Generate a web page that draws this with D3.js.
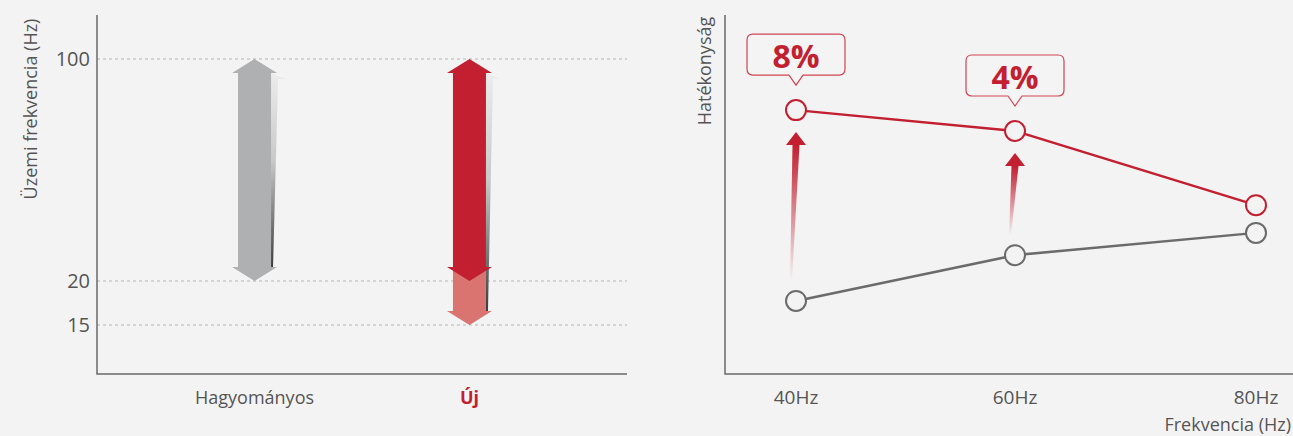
<!DOCTYPE html>
<html>
<head>
<meta charset="utf-8">
<script src="https://cdn.jsdelivr.net/npm/d3@7"></script>
<style>
  html, body { margin: 0; padding: 0; background: #f3f3f3; }
  svg { display: block; font-family: "Open Sans", "Noto Sans", sans-serif; }
</style>
</head>
<body>
<svg id="chart" width="1293" height="436"></svg>
<script>
// ---- left chart data: operating frequency range
const categories = ["Hagyományos", "Új"];
const maxHz = [100, 100];
const minHz = [20, 20];
const extendedMinHz = [null, 15];
const yTicksLeft = [15, 20, 100];

// ---- right chart data: efficiency vs frequency
const freqLabels = ["40Hz", "60Hz", "80Hz"];
const freqHz = [40, 60, 80];
const conventional = [20.3, 33, 39.2];
const improved = [73.3, 67.5, 46.9];
const gains = ["8%", "4%", null];

const RED = "#c21f30";
const PINK = "#da7471";
const GREY_ARROW = "#afb0b2";
const TEXT = "#555";
const AXIS = "#6a6a6a";

const svg = d3.select("#chart");
svg.append("rect").attr("width", 1293).attr("height", 436).attr("fill", "#f3f3f3");

const defs = svg.append("defs");
function shadowGrad(id) {
  const g = defs.append("linearGradient").attr("id", id)
    .attr("x1", 0).attr("y1", 0).attr("x2", 0).attr("y2", 1);
  g.append("stop").attr("offset", "0%").attr("stop-color", "#ececec");
  g.append("stop").attr("offset", "45%").attr("stop-color", "#c9c9c9");
  g.append("stop").attr("offset", "100%").attr("stop-color", "#3c3c3c");
}
shadowGrad("shadow");
const fade = defs.append("linearGradient").attr("id", "fadeRed")
  .attr("x1", 0).attr("y1", 0).attr("x2", 0).attr("y2", 1);
fade.append("stop").attr("offset", "0%").attr("stop-color", RED).attr("stop-opacity", 1);
fade.append("stop").attr("offset", "100%").attr("stop-color", RED).attr("stop-opacity", 0);

// ================= LEFT CHART =================
const L = { left: 97, right: 627, top: 15, bottom: 374 };
const xL = d3.scalePoint().domain(categories).range([L.left, L.right]).padding(0.733);
const yL = d3.scaleLinear().domain([15, 20, 100]).range([325, 281, 59]);

const left = svg.append("g");

// dotted gridlines
left.selectAll("line.grid").data(yTicksLeft).enter().append("line")
  .attr("x1", L.left).attr("x2", L.right)
  .attr("y1", d => yL(d)).attr("y2", d => yL(d))
  .attr("stroke", "#b5b5b5").attr("stroke-width", 1).attr("stroke-dasharray", "3,3");

left.selectAll("text.tick").data(yTicksLeft).enter().append("text")
  .attr("x", L.left - 7).attr("y", d => yL(d)).attr("dy", "0.36em")
  .attr("text-anchor", "end").attr("font-size", 20).attr("fill", TEXT)
  .text(d => d);

// axes
left.append("path")
  .attr("d", `M${L.left},${L.top}V${L.bottom}H${L.right}`)
  .attr("fill", "none").attr("stroke", AXIS).attr("stroke-width", 1.5);

left.append("text")
  .attr("transform", `translate(37,${L.top + 94}) rotate(-90)`)
  .attr("text-anchor", "middle").attr("font-size", 18).attr("fill", TEXT)
  .text("Üzemi frekvencia (Hz)");

left.selectAll("text.cat").data(categories).enter().append("text")
  .attr("x", d => xL(d)).attr("y", 404)
  .attr("text-anchor", "middle").attr("font-size", 18)
  .attr("font-weight", (d, i) => i === 1 ? "bold" : "normal")
  .attr("fill", (d, i) => i === 1 ? RED : TEXT)
  .text(d => d);

const shaftW = 33, headW = 45, headH = 14;

function doubleArrow(cx, yT, yB) {
  const s = shaftW / 2, h = headW / 2;
  return `M${cx},${yT}L${cx + h},${yT + headH}L${cx + s},${yT + headH}L${cx + s},${yB - headH}` +
    `L${cx + h},${yB - headH}L${cx},${yB}L${cx - h},${yB - headH}L${cx - s},${yB - headH}` +
    `L${cx - s},${yT + headH}L${cx - h},${yT + headH}Z`;
}
function downArrow(cx, yT, yB) {
  const s = shaftW / 2, h = headW / 2;
  return `M${cx - s},${yT}L${cx + s},${yT}L${cx + s},${yB - headH}L${cx + h},${yB - headH}` +
    `L${cx},${yB}L${cx - h},${yB - headH}L${cx - s},${yB - headH}Z`;
}
function shadow(cx, yT, yB) {
  const s = shaftW / 2, h = headW / 2;
  const x0 = cx + s;
  return `M${x0},${yT + headH}L${cx + h + 8},${yT + headH + 6}L${x0 + 7},${yT + headH + 6}` +
    `L${x0 + 2},${yB}L${x0},${yB}Z`;
}

categories.forEach((c, i) => {
  const cx = xL(c);
  const yTop = yL(maxHz[i]);
  const yBot = yL(minHz[i]);
  const lowest = extendedMinHz[i] != null ? yL(extendedMinHz[i]) : yBot;
  const base = i === 1 ? RED : GREY_ARROW;
  left.append("path").attr("d", shadow(cx, yTop, lowest - headH)).attr("fill", "url(#shadow)");
  if (extendedMinHz[i] != null) {
    left.append("path").attr("d", downArrow(cx, yBot - headH, lowest)).attr("fill", PINK);
  }
  left.append("path").attr("d", doubleArrow(cx, yTop, yBot)).attr("fill", base);
});

// ================= RIGHT CHART =================
const R = { left: 725, right: 1293, top: 15, bottom: 374 };
const xR = d3.scaleLinear().domain([40, 60, 80]).range([796, 1015, 1256]);
const yR = d3.scaleLinear().domain([0, 100]).range([R.bottom, 14]);

const right = svg.append("g");

right.append("path")
  .attr("d", `M${R.left},${R.top}V${R.bottom}H${R.right}`)
  .attr("fill", "none").attr("stroke", AXIS).attr("stroke-width", 1.5);

right.append("text")
  .attr("transform", `translate(711,${R.top + 56}) rotate(-90)`)
  .attr("text-anchor", "middle").attr("font-size", 18).attr("fill", TEXT)
  .text("Hatékonyság");

right.selectAll("text.freq").data(freqLabels).enter().append("text")
  .attr("x", (d, i) => xR(freqHz[i])).attr("y", 404)
  .attr("text-anchor", "middle").attr("font-size", 19).attr("fill", TEXT)
  .text(d => d);

right.append("text")
  .attr("x", 1291).attr("y", 431).attr("text-anchor", "end")
  .attr("font-size", 18).attr("fill", TEXT).text("Frekvencia (Hz)");

// gradient arrows from conventional to improved
const r = 10;
freqHz.forEach((f, i) => {
  if (!gains[i]) return;
  const cx = xR(f);
  const tip = yR(improved[i]) + r + 12;
  const tail = yR(conventional[i]) - r - 10;
  const hb = tip + 13;
  right.append("path")
    .attr("d", `M${cx - 3.5},${hb}L${cx + 3.5},${hb}L${cx - 4},${tail}L${cx - 6},${tail}Z`)
    .attr("fill", "url(#fadeRed)");
  right.append("path")
    .attr("d", `M${cx},${tip}L${cx + 10},${hb}L${cx - 10},${hb}Z`)
    .attr("fill", RED);
});

const line = d3.line().x((d, i) => xR(freqHz[i])).y(d => yR(d));

[[conventional, "#6b6b6b"], [improved, RED]].forEach(([vals, col]) => {
  right.append("path").attr("d", line(vals))
    .attr("fill", "none").attr("stroke", col).attr("stroke-width", 2.5);
  right.selectAll(null).data(vals).enter().append("circle")
    .attr("cx", (d, i) => xR(freqHz[i])).attr("cy", d => yR(d)).attr("r", r)
    .attr("fill", "#f3f3f3").attr("stroke", col).attr("stroke-width", 2);
});

// callouts
const boxW = 98, boxH = 41, ptrH = 10;
freqHz.forEach((f, i) => {
  if (!gains[i]) return;
  const cx = xR(f);
  const tipY = yR(improved[i]) - r - 15;
  const bb = tipY - ptrH;
  const bt = bb - boxH;
  const x0 = cx - boxW / 2, x1 = cx + boxW / 2, rr = 6;
  const d = `M${x0 + rr},${bt}H${x1 - rr}Q${x1},${bt} ${x1},${bt + rr}V${bb - rr}Q${x1},${bb} ${x1 - rr},${bb}` +
    `H${cx + 7}L${cx},${tipY}L${cx - 7},${bb}H${x0 + rr}Q${x0},${bb} ${x0},${bb - rr}V${bt + rr}Q${x0},${bt} ${x0 + rr},${bt}Z`;
  right.append("path").attr("d", d).attr("fill", "#f4f4f4")
    .attr("stroke", "#cf4452").attr("stroke-width", 1.2);
  right.append("text").attr("x", cx).attr("y", bb - 7)
    .attr("text-anchor", "middle").attr("font-size", 32).attr("font-weight", "bold")
    .attr("fill", RED).text(gains[i]);
});
</script>
</body>
</html>
